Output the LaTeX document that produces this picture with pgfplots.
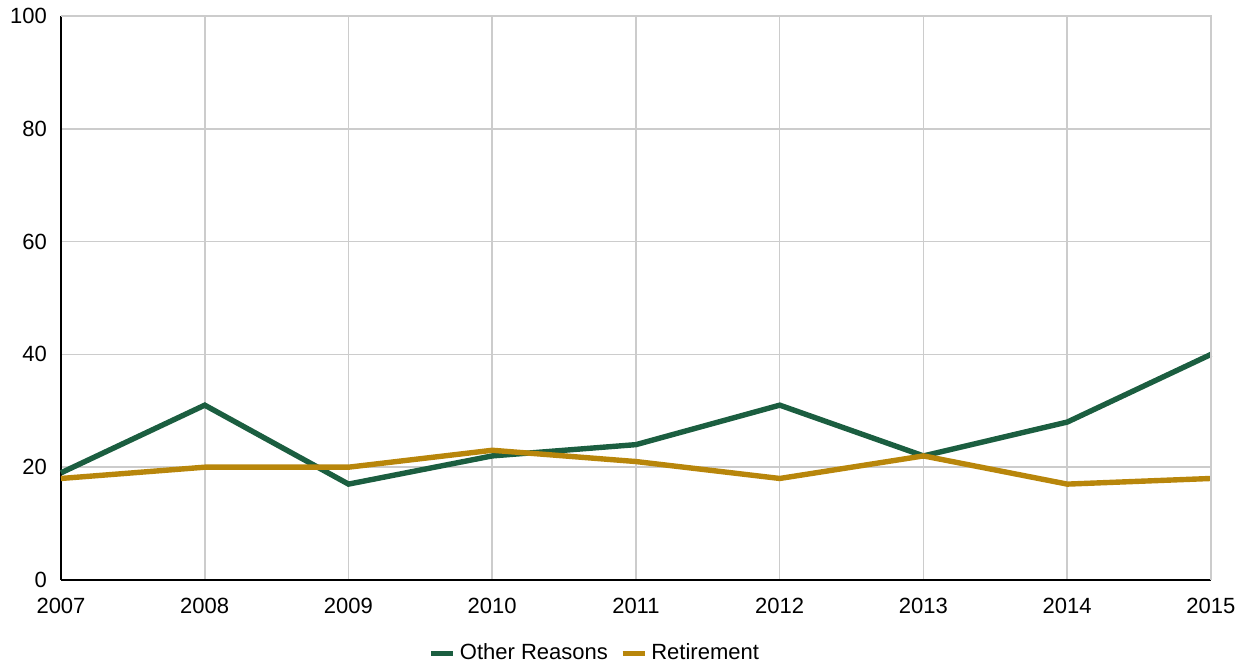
\documentclass[border=0pt]{standalone}
\usepackage{fontspec}
\setmainfont{Liberation Sans}
\usepackage{pgfplots}
\pgfplotsset{compat=1.18}
\definecolor{cgreen}{HTML}{1B5E40}
\definecolor{cgold}{HTML}{B8860B}
\definecolor{cgrid}{HTML}{CCCCCC}
\begin{document}
\begin{tikzpicture}
\begin{axis}[
  at={(0,0)}, anchor=south west,
  scale only axis, width=575pt, height=282pt,
  xmin=2007, xmax=2015, ymin=0, ymax=100,
  xtick={2007,...,2015}, ytick={0,20,40,60,80,100},
  /pgf/number format/1000 sep={},
  /pgf/number format/assume math mode=true,
  tick label style={font=\fontsize{11}{13}\selectfont},
  major tick length=0pt,
  axis x line*=bottom, axis y line*=left,
  axis line style={black, line width=0.8pt, -},
  grid=major, grid style={cgrid, line width=0.8pt},
  xticklabel style={yshift=-5.5pt},
  yticklabel style={xshift=-3.5pt},
  legend style={draw=none, at={(0.465,-0.13)}, anchor=center, legend columns=-1,
    font=\fontsize{11}{13}\selectfont, /tikz/every even column/.append style={column sep=4pt}},
  legend image code/.code={\draw[#1, line width=2.7pt] (0pt,0pt) -- (11pt,0pt);},
  clip=false,
]
\addplot[cgreen, line width=2.7pt, line join=miter] coordinates {
(2007,19) (2008,31) (2009,17) (2010,22) (2011,24) (2012,31) (2013,22) (2014,28) (2015,40)};
\addlegendentry{Other Reasons}
\addplot[cgold, line width=2.7pt] coordinates {
(2007,18) (2008,20) (2009,20) (2010,23) (2011,21) (2012,18) (2013,22) (2014,17) (2015,18)};
\addlegendentry{Retirement}
\draw[cgrid, line width=0.8pt] (rel axis cs:0,1) -- (rel axis cs:1,1) -- (rel axis cs:1,0);
\end{axis}
\pgfresetboundingbox
\path[use as bounding box] (-30.5pt,-43.5pt) rectangle (588.5pt,290pt);
\end{tikzpicture}
\end{document}
